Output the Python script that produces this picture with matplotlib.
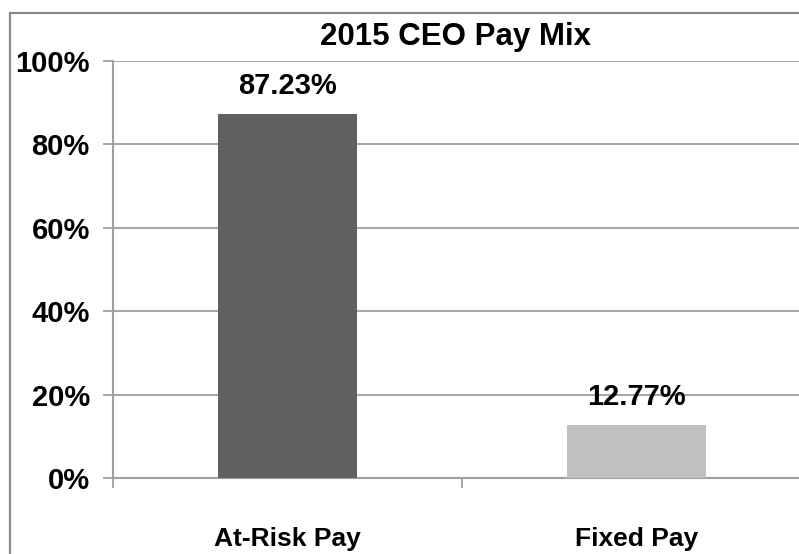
import matplotlib
matplotlib.use("Agg")
import matplotlib.pyplot as plt
from matplotlib.patches import Rectangle
from matplotlib.ticker import FixedLocator, NullFormatter
from matplotlib.transforms import blended_transform_factory

plt.rcParams['font.family'] = ['Liberation Sans', 'DejaVu Sans']

categories = ["At-Risk Pay", "Fixed Pay"]
values = [87.23, 12.77]
value_labels = ["87.23%", "12.77%"]
colors = ["#606060", "#c0c0c0"]
yticks = [0, 20, 40, 60, 80, 100]
ytick_labels = ["0%", "20%", "40%", "60%", "80%", "100%"]
title = "2015 CEO Pay Mix"

W, H = 799, 554
fig = plt.figure(figsize=(W / 100, H / 100), dpi=100)

# outer chart border (cropped at right and bottom)
fig.patches.append(Rectangle((10 / W, -0.1), 1.2, 1 - 13 / H + 0.1,
                             transform=fig.transFigure, fill=False,
                             edgecolor="#8a8a8a", linewidth=1.6))

left_px, right_px = 113, 811
top_px, bottom_px = 61, 478
ax = fig.add_axes([left_px / W, (H - bottom_px) / H,
                   (right_px - left_px) / W, (bottom_px - top_px) / H])
ax.set_xlim(-0.5, 1.5)
ax.set_ylim(0, 100)

x = list(range(len(categories)))
ax.bar(x, values, width=0.4, color=colors, zorder=3)

ax.set_yticks(yticks)
ax.set_yticklabels(ytick_labels, fontsize=21, fontweight="bold")
ax.yaxis.grid(True, color="#a8a8a8", linewidth=1.5, zorder=0)
ax.tick_params(axis="y", length=7.2, width=1.3, color="#a0a0a0", pad=9.5)

ax.set_xticks(x)
ax.set_xticklabels([])
ax.tick_params(axis="x", which="major", length=0)
ax.xaxis.set_minor_locator(FixedLocator([-0.5, 0.5, 1.5]))
ax.xaxis.set_minor_formatter(NullFormatter())
ax.tick_params(axis="x", which="minor", length=7.2, width=1.3, color="#a0a0a0")

for s in ["top", "right"]:
    ax.spines[s].set_visible(False)
for s in ["left", "bottom"]:
    ax.spines[s].set_color("#a0a0a0")
    ax.spines[s].set_linewidth(1.5)

for xi, v, lab in zip(x, values, value_labels):
    ax.annotate(lab, (xi, v), xytext=(0, 10), textcoords="offset points",
                ha="center", va="bottom", fontsize=21, fontweight="bold")

tr = blended_transform_factory(ax.transData, fig.transFigure)
for xi, c in zip(x, categories):
    ax.text(xi, 1 - 539 / H, c, transform=tr, ha="center", va="center",
            fontsize=19, fontweight="bold")

fig.text(456 / W, 1 - 37 / H, title, ha="center", va="center",
         fontsize=22.5, fontweight="bold")

fig.savefig("out.png", dpi=100)
